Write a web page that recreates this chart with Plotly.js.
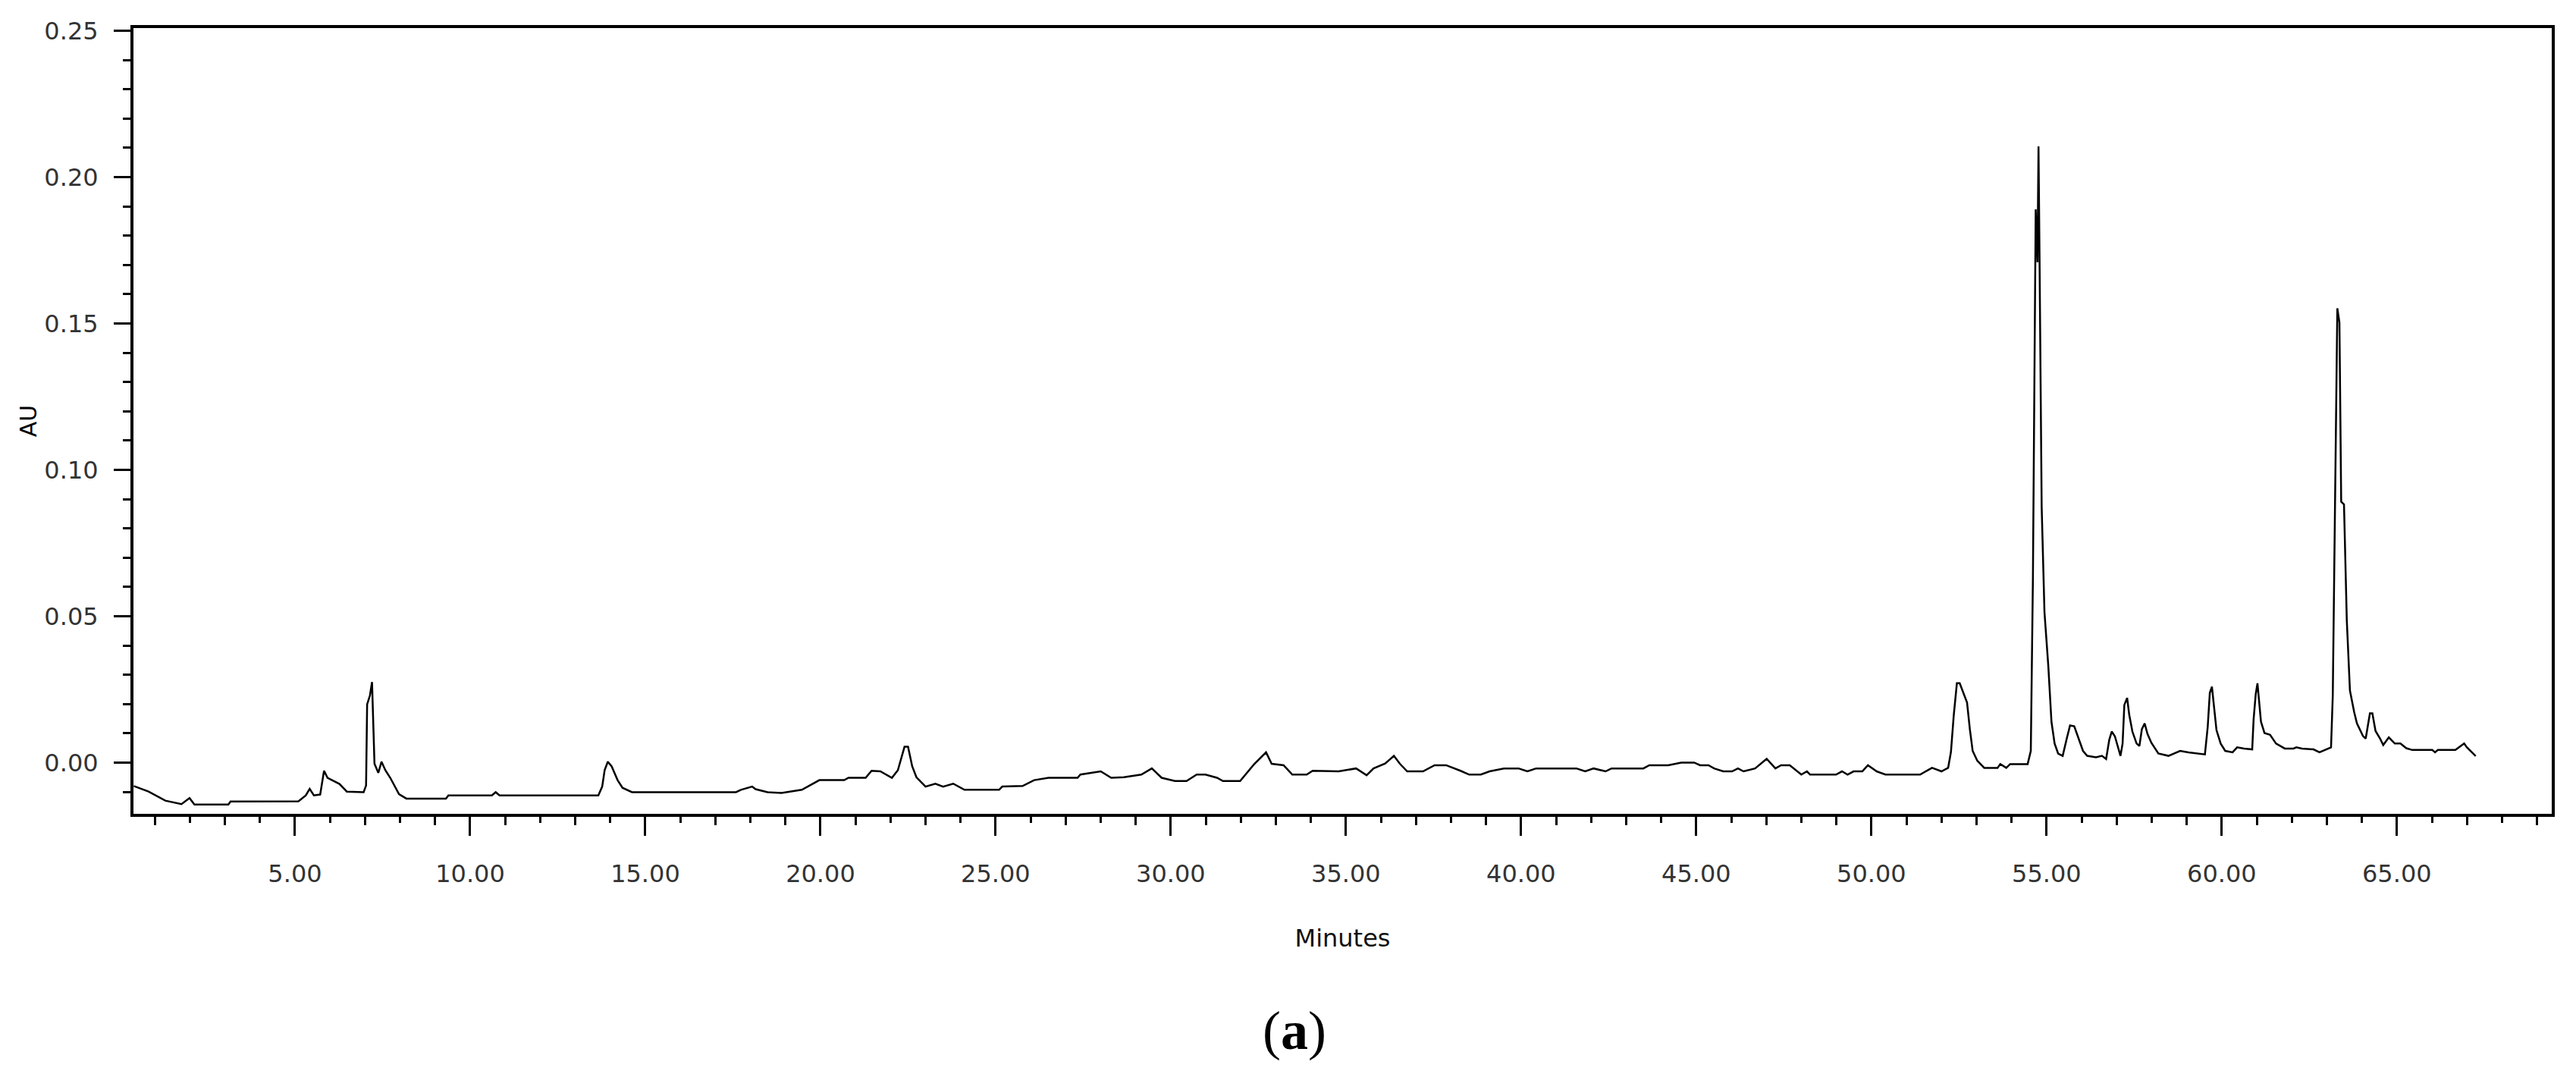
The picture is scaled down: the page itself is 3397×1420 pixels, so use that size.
<!DOCTYPE html>
<html>
<head>
<meta charset="utf-8">
<script src="https://cdn.plot.ly/plotly-3.0.1.min.js"></script>
<style>
html,body{margin:0;padding:0;background:#fff;}
#chart{width:3397px;height:1420px;}
</style>
</head>
<body>
<div id="chart"></div>
<script>
// Retention time (minutes)
const minutes = [
0.40,0.82,1.30,1.76,1.99,2.13,3.10,3.16,5.10,5.31,5.42,5.54,5.72,5.83,5.93,6.07,6.27,6.48,6.96,7.03,
7.06,7.14,7.20,7.27,7.38,7.47,7.58,7.72,7.86,7.97,8.18,9.31,9.38,10.62,10.73,10.84,13.66,13.77,13.84,13.93,
14.04,14.21,14.35,14.62,17.59,17.73,18.05,18.15,18.49,18.89,19.47,19.80,19.97,20.68,20.80,21.29,21.46,21.71,22.04,22.21,
22.40,22.50,22.62,22.74,23.00,23.28,23.50,23.79,24.11,25.10,25.19,25.77,26.10,26.51,27.34,27.42,28.00,28.30,28.66,29.16,
29.46,29.74,30.12,30.45,30.74,30.99,31.32,31.49,31.98,32.39,32.72,32.88,33.22,33.47,33.88,34.05,34.79,35.29,35.59,35.79,
36.12,36.37,36.54,36.75,37.20,37.53,37.86,38.27,38.52,38.85,39.10,39.51,39.93,40.18,40.43,41.58,41.83,42.07,42.41,42.58,
43.49,43.66,44.20,44.57,44.94,45.11,45.35,45.51,45.77,46.02,46.19,46.35,46.68,47.01,47.26,47.42,47.67,48.00,48.16,48.25,
48.99,49.16,49.32,49.49,49.74,49.90,50.15,50.40,51.39,51.73,52.00,52.19,52.27,52.35,52.44,52.52,52.62,52.73,52.81,52.89,
53.02,53.22,53.60,53.68,53.85,53.96,54.46,54.55,54.61,54.69,54.74,54.77,54.80,54.86,54.94,55.05,55.14,55.23,55.33,55.46,
55.58,55.67,55.79,55.91,56.04,56.16,56.41,56.58,56.70,56.79,56.86,56.95,57.03,57.11,57.17,57.22,57.30,57.36,57.45,57.57,
57.65,57.72,57.80,57.88,57.99,58.19,58.48,58.81,59.05,59.39,59.52,59.60,59.66,59.72,59.78,59.85,59.97,60.10,60.31,60.44,
60.64,60.87,60.91,60.97,61.02,61.07,61.12,61.22,61.38,61.55,61.80,62.05,62.13,62.29,62.62,62.79,63.12,63.17,63.22,63.30,
63.36,63.41,63.49,63.57,63.66,63.70,63.78,63.86,64.03,64.11,64.23,64.30,64.39,64.52,64.61,64.77,64.94,65.10,65.27,65.44,
66.01,66.09,66.17,66.67,66.92,67.00,67.08,67.25
];
// Absorbance (AU)
const absorbance = [
-0.0080,-0.0099,-0.0130,-0.0142,-0.0121,-0.0143,-0.0143,-0.0133,-0.0132,-0.0112,-0.0090,-0.0112,-0.0109,-0.0028,-0.0052,-0.0060,-0.0073,-0.0099,-0.0101,-0.0078,
0.0199,0.0229,0.0275,-0.0004,-0.0035,0.0003,-0.0026,-0.0052,-0.0082,-0.0108,-0.0123,-0.0123,-0.0112,-0.0112,-0.0101,-0.0112,-0.0112,-0.0082,-0.0026,0.0003,
-0.0013,-0.0060,-0.0086,-0.0101,-0.0101,-0.0093,-0.0082,-0.0091,-0.0101,-0.0104,-0.0093,-0.0072,-0.0060,-0.0060,-0.0052,-0.0052,-0.0028,-0.0030,-0.0052,-0.0026,
0.0054,0.0054,-0.0013,-0.0050,-0.0082,-0.0072,-0.0082,-0.0072,-0.0093,-0.0093,-0.0082,-0.0080,-0.0060,-0.0052,-0.0052,-0.0041,-0.0030,-0.0052,-0.0050,-0.0041,
-0.0020,-0.0052,-0.0063,-0.0063,-0.0041,-0.0041,-0.0052,-0.0063,-0.0063,-0.0004,0.0035,-0.0004,-0.0009,-0.0041,-0.0041,-0.0028,-0.0030,-0.0020,-0.0043,-0.0020,
-0.0003,0.0023,-0.0004,-0.0030,-0.0030,-0.0009,-0.0009,-0.0028,-0.0041,-0.0041,-0.0030,-0.0020,-0.0020,-0.0030,-0.0020,-0.0020,-0.0030,-0.0020,-0.0030,-0.0020,
-0.0020,-0.0009,-0.0009,0.0000,0.0000,-0.0009,-0.0009,-0.0020,-0.0030,-0.0030,-0.0020,-0.0030,-0.0020,0.0013,-0.0020,-0.0009,-0.0009,-0.0041,-0.0030,-0.0041,
-0.0041,-0.0030,-0.0041,-0.0030,-0.0030,-0.0009,-0.0030,-0.0041,-0.0041,-0.0018,-0.0030,-0.0018,0.0036,0.0161,0.0271,0.0271,0.0238,0.0205,0.0114,0.0040,
0.0007,-0.0018,-0.0018,-0.0005,-0.0018,-0.0005,-0.0005,0.0040,0.0627,0.1890,0.1709,0.2105,0.1710,0.0874,0.0514,0.0329,0.0139,0.0065,0.0031,0.0023,
0.0084,0.0127,0.0124,0.0084,0.0040,0.0023,0.0018,0.0023,0.0012,0.0078,0.0106,0.0090,0.0057,0.0023,0.0065,0.0197,0.0221,0.0163,0.0106,0.0065,
0.0057,0.0114,0.0134,0.0098,0.0068,0.0031,0.0023,0.0040,0.0035,0.0031,0.0028,0.0122,0.0238,0.0259,0.0197,0.0111,0.0065,0.0040,0.0035,0.0052,
0.0048,0.0045,0.0148,0.0233,0.0271,0.0213,0.0140,0.0101,0.0095,0.0065,0.0048,0.0048,0.0052,0.0048,0.0045,0.0035,0.0052,0.0230,0.0718,0.1552,
0.1503,0.0891,0.0882,0.0486,0.0246,0.0220,0.0173,0.0134,0.0091,0.0082,0.0168,0.0168,0.0108,0.0082,0.0060,0.0086,0.0065,0.0065,0.0049,0.0043,
0.0043,0.0035,0.0043,0.0043,0.0065,0.0052,0.0043,0.0022
];
const xTickLabelFormat = '.2f';
const yTickLabelFormat = '.2f';
const xTitle = 'Minutes';
const yTitle = 'AU';
const panelLabel = '(<b>a</b>)';
// odd minutes drawn with medium-length ticks
const mediumTickMinutes = [1,3,7,9,11,13,17,19,21,23,27,29,31,33,37,39,41,43,47,49,51,53,57,59,61,63,67,69];

const xRange = [0.39, 69.42];
const yRange = [-0.0175, 0.2509];
const tickFont = {family: 'DejaVu Sans, sans-serif', size: 32, color: '#333'};

const trace = {
  x: minutes, y: absorbance, type: 'scatter', mode: 'lines',
  line: {color: '#000', width: 2.5}, hoverinfo: 'x+y', showlegend: false
};
const dummy = {x: [xRange[0]], y: [0], xaxis: 'x2', yaxis: 'y', mode: 'markers',
  marker: {opacity: 0}, hoverinfo: 'skip', showlegend: false};

const layout = {
  width: 3397, height: 1420,
  margin: {l: 176, r: 32, t: 37, b: 347},
  paper_bgcolor: '#fff', plot_bgcolor: '#fff',
  showlegend: false,
  xaxis: {
    range: xRange, tick0: 0, dtick: 5, tickformat: xTickLabelFormat,
    ticks: 'outside', ticklen: 25, tickwidth: 3, tickcolor: '#000',
    showline: true, linewidth: 4, linecolor: '#000', mirror: true,
    showgrid: false, zeroline: false, tickfont: tickFont,
    ticklabelstandoff: 23,
    minor: {tick0: 0, dtick: 1, ticks: 'outside', ticklen: 8, tickwidth: 3, tickcolor: '#000', showgrid: false},
    title: {text: xTitle, font: {family: 'DejaVu Sans, sans-serif', size: 32, color: '#111'}, standoff: 56}
  },
  xaxis2: {
    overlaying: 'x', anchor: 'y', side: 'bottom', range: xRange,
    tickmode: 'array', tickvals: mediumTickMinutes, showticklabels: false,
    ticks: 'outside', ticklen: 14, tickwidth: 3, tickcolor: '#000',
    showline: false, showgrid: false, zeroline: false
  },
  yaxis: {
    range: yRange, tick0: 0, dtick: 0.05, tickformat: yTickLabelFormat,
    ticks: 'outside', ticklen: 22, tickwidth: 3, tickcolor: '#000',
    showline: true, linewidth: 4, linecolor: '#000', mirror: true,
    showgrid: false, zeroline: false, tickfont: tickFont,
    ticklabelstandoff: 14,
    minor: {tick0: 0, dtick: 0.01, ticks: 'outside', ticklen: 10, tickwidth: 3, tickcolor: '#000', showgrid: false},
    title: {text: yTitle, font: {family: 'DejaVu Sans, sans-serif', size: 30, color: '#000'}, standoff: 2}
  },
  annotations: [{
    text: panelLabel, xref: 'paper', yref: 'paper', x: 0.480, y: -0.276,
    xanchor: 'center', yanchor: 'middle', showarrow: false,
    font: {family: 'Liberation Serif, serif', size: 72, color: '#000'}
  }]
};

Plotly.newPlot('chart', [trace, dummy], layout, {displayModeBar: false, staticPlot: true});
</script>
</body>
</html>
